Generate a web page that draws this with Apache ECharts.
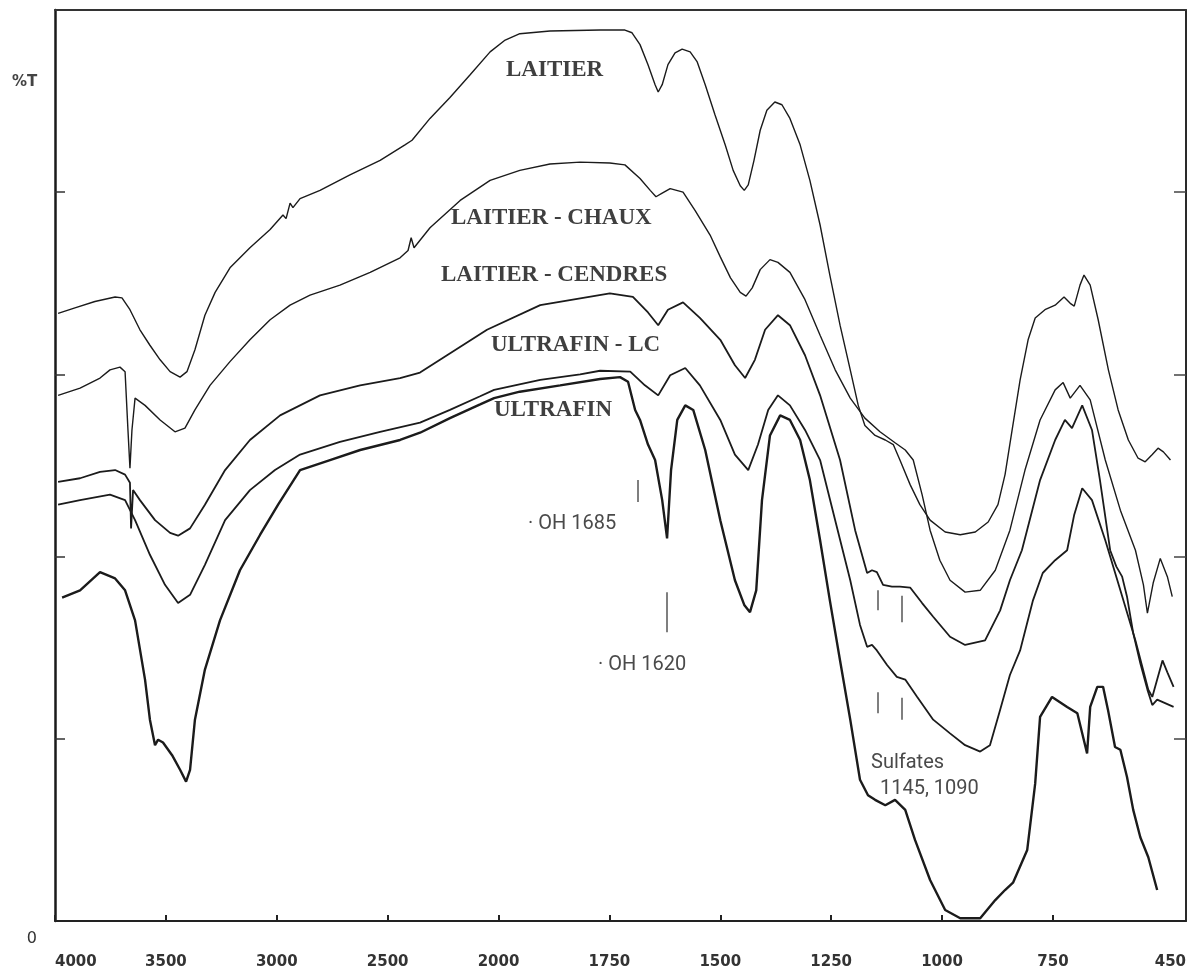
<!DOCTYPE html>
<html>
<head>
<meta charset="utf-8">
<script src="https://cdn.jsdelivr.net/npm/echarts@6/dist/echarts.min.js"></script>
<style>
  html, body { margin: 0; padding: 0; background: #ffffff; }
  #chart { width: 1202px; height: 973px; }
</style>
</head>
<body>
<div id="chart"></div>
<script>
// Wavenumber tick labels (cm-1) along the bottom axis
const xTickLabels = [4000, 3500, 3000, 2500, 2000, 1750, 1500, 1250, 1000, 750, 450];
// %T grid marks on the frame
const yTickValues = [20, 40, 60, 80];

// IR spectra: [wavenumber cm-1, %T]
const laitier = [
  [3986, 66.7], [3910, 67.3], [3820, 68.0], [3729, 68.5], [3698, 68.4], [3662, 67.1],
  [3617, 64.9], [3572, 63.2], [3526, 61.6], [3481, 60.3], [3436, 59.7], [3405, 60.3],
  [3369, 62.7], [3324, 66.5], [3278, 69.0], [3211, 71.7], [3121, 73.9], [3030, 75.9],
  [2972, 77.5], [2958, 77.1], [2940, 78.8], [2927, 78.3], [2895, 79.3], [2805, 80.2],
  [2670, 81.9], [2534, 83.5], [2422, 85.2], [2390, 85.7], [2309, 88.1], [2219, 90.4],
  [2128, 92.9], [2038, 95.4], [1985, 96.7], [1952, 97.4], [1884, 97.7], [1771, 97.8],
  [1715, 97.8], [1699, 97.5], [1681, 96.2], [1663, 94.0], [1647, 91.8], [1640, 91.0],
  [1631, 91.8], [1618, 94.0], [1602, 95.3], [1586, 95.7], [1568, 95.4], [1552, 94.3],
  [1534, 91.8], [1512, 88.5], [1489, 85.2], [1471, 82.4], [1455, 80.7], [1446, 80.2],
  [1437, 80.8], [1424, 83.5], [1410, 86.8], [1395, 89.0], [1377, 89.9], [1361, 89.6],
  [1343, 88.1], [1320, 85.2], [1298, 81.3], [1275, 76.4], [1253, 70.9], [1230, 65.4],
  [1207, 60.5], [1189, 56.6], [1174, 54.4], [1151, 53.3], [1128, 52.8], [1110, 52.3],
  [1095, 50.6], [1072, 47.9], [1050, 45.7], [1027, 44.0], [993, 42.7], [959, 42.4],
  [925, 42.7], [896, 43.8], [874, 45.7], [858, 49.0], [842, 53.9], [824, 59.4],
  [806, 63.8], [790, 66.2], [768, 67.1], [745, 67.6], [725, 68.5], [711, 67.8],
  [702, 67.5], [689, 69.8], [680, 70.9], [666, 69.8], [648, 66.0], [625, 60.5],
  [603, 56.1], [580, 52.8], [558, 50.8], [542, 50.4], [526, 51.2], [513, 51.9],
  [501, 51.5], [485, 50.6]
];

const laitierChaux = [
  [3986, 57.7], [3887, 58.5], [3797, 59.6], [3752, 60.5], [3707, 60.8], [3684, 60.3],
  [3671, 53.9], [3662, 49.7], [3653, 53.9], [3639, 57.4], [3594, 56.6], [3526, 55.0],
  [3459, 53.7], [3414, 54.1], [3369, 56.1], [3301, 58.8], [3211, 61.4], [3121, 63.8],
  [3030, 66.0], [2940, 67.6], [2850, 68.7], [2715, 69.8], [2579, 71.2], [2444, 72.8],
  [2408, 73.6], [2394, 75.0], [2381, 73.9], [2309, 76.1], [2173, 79.1], [2038, 81.3],
  [1952, 82.4], [1884, 83.1], [1816, 83.3], [1749, 83.2], [1715, 83.0], [1681, 81.5],
  [1658, 80.2], [1645, 79.5], [1631, 79.9], [1613, 80.4], [1584, 80.0], [1557, 78.0],
  [1523, 75.3], [1500, 72.9], [1477, 70.6], [1455, 69.0], [1442, 68.6], [1428, 69.5],
  [1410, 71.5], [1388, 72.6], [1370, 72.3], [1343, 71.2], [1309, 68.2], [1275, 64.3],
  [1241, 60.5], [1207, 57.4], [1174, 55.2], [1140, 53.7], [1106, 52.5], [1083, 51.7],
  [1065, 50.6], [1045, 46.8], [1027, 42.9], [1005, 39.6], [982, 37.4], [948, 36.1],
  [914, 36.3], [880, 38.5], [847, 42.9], [813, 49.5], [779, 55.0], [745, 58.3],
  [727, 59.1], [711, 57.4], [689, 58.8], [666, 57.2], [632, 50.6], [598, 45.1],
  [564, 40.7], [546, 36.9], [537, 33.8], [524, 37.1], [508, 39.8], [492, 37.8], [481, 35.6]
];

const laitierCendres = [
  [3986, 48.2], [3887, 48.6], [3797, 49.3], [3729, 49.5], [3684, 49.0], [3662, 48.1],
  [3657, 43.1], [3648, 47.3], [3617, 46.2], [3549, 44.0], [3481, 42.6], [3445, 42.3],
  [3391, 43.1], [3324, 45.7], [3233, 49.5], [3121, 52.8], [2985, 55.5], [2805, 57.7],
  [2624, 58.8], [2444, 59.6], [2354, 60.2], [2052, 64.9], [1906, 67.6], [1749, 68.9],
  [1697, 68.5], [1663, 66.8], [1640, 65.4], [1618, 67.1], [1584, 67.9], [1546, 66.2],
  [1500, 63.8], [1467, 61.0], [1444, 59.6], [1422, 61.6], [1399, 64.9], [1370, 66.5],
  [1343, 65.4], [1309, 62.1], [1275, 57.7], [1230, 50.6], [1196, 42.9], [1169, 38.2],
  [1158, 38.5], [1147, 38.3], [1133, 36.9], [1113, 36.7], [1095, 36.7], [1072, 36.6],
  [1045, 34.9], [1020, 33.4], [982, 31.2], [948, 30.3], [903, 30.8], [869, 34.1],
  [847, 37.4], [820, 40.7], [779, 48.4], [745, 52.8], [723, 55.0], [707, 54.1],
  [684, 56.6], [662, 53.9], [644, 48.4], [621, 40.7], [607, 38.9], [594, 37.8],
  [583, 35.6], [569, 31.6], [553, 28.3], [537, 25.4], [526, 23.7], [515, 24.3],
  [501, 24.0], [478, 23.5]
];

const ultrafinLC = [
  [3986, 45.7], [3887, 46.2], [3752, 46.8], [3684, 46.2], [3639, 44.0], [3572, 40.2],
  [3504, 36.9], [3445, 34.9], [3391, 35.8], [3324, 39.1], [3233, 44.0], [3121, 47.3],
  [3008, 49.5], [2895, 51.2], [2715, 52.6], [2534, 53.7], [2354, 54.7], [2219, 56.1],
  [2083, 57.6], [2020, 58.3], [1906, 59.4], [1816, 60.0], [1771, 60.4], [1703, 60.3],
  [1670, 58.8], [1640, 57.7], [1613, 59.9],
  [1579, 60.7], [1546, 58.8], [1500, 55.0], [1467, 51.2], [1437, 49.5], [1415, 52.3],
  [1392, 56.1], [1370, 57.7], [1343, 56.6], [1309, 53.9], [1275, 50.6], [1241, 44.0],
  [1207, 37.4], [1185, 32.5], [1169, 30.1], [1158, 30.3], [1147, 29.7], [1124, 28.1],
  [1102, 26.8], [1083, 26.5], [1056, 24.6], [1020, 22.1], [982, 20.6], [948, 19.3],
  [914, 18.6], [892, 19.3], [869, 23.2], [847, 27.0], [824, 29.7], [795, 35.2],
  [773, 38.2], [745, 39.6], [718, 40.7], [702, 44.6], [684, 47.5], [662, 46.2],
  [632, 41.8], [598, 36.3], [564, 30.8], [535, 25.4], [526, 24.6], [515, 26.5],
  [503, 28.6], [492, 27.3], [478, 25.7]
];

const ultrafin = [
  [3968, 35.5], [3887, 36.3], [3797, 38.3], [3729, 37.6], [3684, 36.3], [3639, 33.0],
  [3594, 26.5], [3572, 22.1], [3549, 19.3], [3535, 19.9], [3513, 19.6], [3472, 18.2],
  [3436, 16.6], [3409, 15.3], [3391, 16.6], [3369, 22.1], [3324, 27.6], [3256, 33.0],
  [3166, 38.5], [3075, 42.4], [2994, 45.7], [2895, 49.5], [2760, 50.6], [2624, 51.7],
  [2444, 52.8], [2354, 53.6], [2219, 55.2], [2083, 56.7], [2020, 57.4], [1952, 58.1],
  [1861, 58.8], [1771, 59.5],
  [1726, 59.7], [1708, 59.2], [1692, 56.1], [1681, 55.0], [1663, 52.3], [1647, 50.6],
  [1631, 46.2], [1620, 42.0], [1611, 49.5], [1597, 55.0], [1579, 56.6], [1561, 56.1],
  [1534, 51.7], [1500, 44.0], [1467, 37.4], [1446, 34.7], [1433, 33.9], [1419, 36.3],
  [1406, 46.2], [1388, 53.3], [1365, 55.5], [1343, 55.0], [1320, 52.8], [1298, 48.4],
  [1275, 41.8], [1253, 35.2], [1230, 28.6], [1207, 22.1], [1185, 15.5], [1167, 13.8],
  [1151, 13.3], [1128, 12.7], [1106, 13.3], [1083, 12.2], [1061, 8.9], [1027, 4.5],
  [993, 1.2], [959, 0.3], [914, 0.3], [880, 2.3], [858, 3.4], [840, 4.2], [808, 7.8],
  [790, 15.1], [779, 22.4], [752, 24.6], [718, 23.5], [695, 22.8], [682, 20.2],
  [673, 18.4], [666, 23.5], [650, 25.7], [637, 25.7], [626, 23.2], [610, 19.1],
  [598, 18.8], [583, 15.8], [569, 12.2], [553, 9.2], [535, 7.0], [515, 3.4]
];

// Band assignments marked under the spectra: [wavenumber, %T top, %T bottom]
const bandMarks = [
  [1685, 48.4, 46.0],
  [1620, 36.1, 31.7],
  [1145, 36.3, 34.1],
  [1090, 35.7, 32.8],
  [1145, 25.1, 22.8],
  [1090, 24.5, 22.1]
];

// The spectrometer records 4000-2000 cm-1 at half the scale of 2000-450 cm-1.
function toAxis(wn) { return wn >= 2000 ? (4000 - wn) / 2 : 1000 + (2000 - wn); }
function fromAxis(t) { return t <= 1000 ? 4000 - 2 * t : 2000 - (t - 1000); }

const axisMax = toAxis(xTickLabels[xTickLabels.length - 1]);
const labelPositions = xTickLabels.map(toAxis);
const tickPositions = labelPositions.slice(0, -1);

function spectrum(name, data, width) {
  return {
    name: name,
    type: 'line',
    data: data.map(p => [toAxis(p[0]), p[1]]),
    showSymbol: false,
    symbol: 'none',
    silent: true,
    lineStyle: { color: '#1b1b1b', width: width },
    animation: false
  };
}

const chart = echarts.init(document.getElementById('chart'), null, { renderer: 'canvas' });

const series = [
  spectrum('LAITIER', laitier, 1.4),
  spectrum('LAITIER - CHAUX', laitierChaux, 1.4),
  spectrum('LAITIER - CENDRES', laitierCendres, 1.8),
  spectrum('ULTRAFIN - LC', ultrafinLC, 1.8),
  spectrum('ULTRAFIN', ultrafin, 2.4)
];
series[4].markLine = {
  silent: true,
  symbol: 'none',
  label: { show: false },
  lineStyle: { color: '#555', width: 1.5, type: 'solid' },
  data: bandMarks.map(m => [
    { coord: [toAxis(m[0]), m[1]] },
    { coord: [toAxis(m[0]), m[2]] }
  ])
};

const labelFont = 'bold 23px "Liberation Serif", "Times New Roman", serif';
const labelColor = '#3f3f3f';
const noteFont = '20px Roboto, "Noto Sans", sans-serif';
const noteColor = '#4a4a4a';

function txt(x, y, text, font, fill) {
  return {
    type: 'text', x: x, y: y, silent: true,
    style: { text: text, font: font, fill: fill, align: 'left', verticalAlign: 'middle' }
  };
}

chart.setOption({
  animation: false,
  backgroundColor: '#ffffff',
  grid: { left: 55, right: 16, top: 10, bottom: 52, containLabel: false },
  xAxis: [
    {
      type: 'value', position: 'bottom', min: 0, max: axisMax,
      axisLine: { onZero: false, lineStyle: { color: '#222', width: 2 } },
      axisTick: { show: true, inside: true, length: 6, customValues: tickPositions,
                  lineStyle: { color: '#222', width: 2 } },
      axisLabel: {
        customValues: labelPositions,
        formatter: v => String(Math.round(fromAxis(v))),
        margin: 34, color: '#333', fontFamily: '"DejaVu Sans", sans-serif',
        fontWeight: 'bold', fontSize: 15,
        alignMinLabel: 'left', alignMaxLabel: 'right'
      },
      splitLine: { show: false }
    },
    {
      type: 'value', position: 'top', min: 0, max: axisMax,
      axisLine: { onZero: false, lineStyle: { color: '#333', width: 2 } },
      axisTick: { show: false }, axisLabel: { show: false }, splitLine: { show: false }
    }
  ],
  yAxis: [
    {
      type: 'value', position: 'left', min: 0, max: 100, interval: 20,
      axisLine: { show: true, onZero: false, lineStyle: { color: '#1a1a1a', width: 2.5 } },
      axisTick: { show: true, inside: true, length: 10, customValues: yTickValues,
                  lineStyle: { color: '#333', width: 1.5 } },
      axisLabel: {
        customValues: [0], margin: 18, verticalAlign: 'top', padding: [10, 0, 0, 0],
        color: '#333', fontSize: 16, fontFamily: '"DejaVu Sans", sans-serif'
      },
      splitLine: { show: false }
    },
    {
      type: 'value', position: 'right', min: 0, max: 100, interval: 20,
      axisLine: { show: true, onZero: false, lineStyle: { color: '#2a2a2a', width: 2 } },
      axisTick: { show: true, inside: true, length: 12, customValues: yTickValues,
                  lineStyle: { color: '#444', width: 1.5 } },
      axisLabel: { show: false }, splitLine: { show: false }
    }
  ],
  series: series,
  graphic: [
    txt(12, 82, '%T', 'bold 15px "DejaVu Sans", sans-serif', '#444'),
    txt(506, 70, 'LAITIER', labelFont, labelColor),
    txt(451, 218, 'LAITIER - CHAUX', labelFont, labelColor),
    txt(441, 275, 'LAITIER - CENDRES', labelFont, labelColor),
    txt(491, 345, 'ULTRAFIN - LC', labelFont, labelColor),
    txt(494, 410, 'ULTRAFIN', labelFont, labelColor),
    txt(528, 524, '\u00b7 OH 1685', noteFont, noteColor),
    txt(598, 665, '\u00b7 OH 1620', noteFont, noteColor),
    txt(871, 763, 'Sulfates', noteFont, noteColor),
    txt(880, 789, '1145, 1090', noteFont, noteColor)
  ]
});
</script>
</body>
</html>
